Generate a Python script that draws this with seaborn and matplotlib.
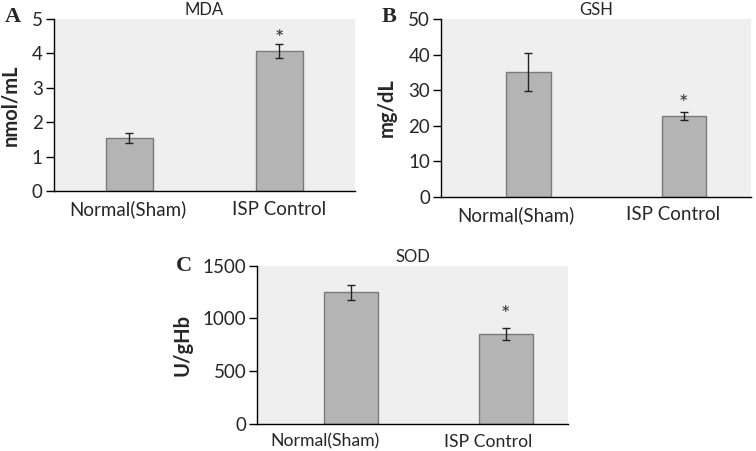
import matplotlib
matplotlib.use("Agg")
import matplotlib.pyplot as plt
import matplotlib.transforms as mtransforms
import seaborn as sns

# Data
groups = ["Normal(Sham)", "ISP Control"]

mda_mean = [1.55, 4.08]
mda_err = [0.15, 0.20]

gsh_mean = [35.0, 22.8]
gsh_err = [5.3, 1.1]

sod_mean = [1248, 853]
sod_err = [70, 60]

titles = ["MDA", "GSH", "SOD"]
ylabels = ["nmol/mL", "mg/dL", "U/gHb"]
letters = ["A", "B", "C"]
yticks_a = [0, 1, 2, 3, 4, 5]
yticks_b = [0, 10, 20, 30, 40, 50]
yticks_c = [0, 500, 1000, 1500]

sns.set_theme(style="white")
plt.rcParams["font.family"] = ["Lato", "DejaVu Sans"]

fig = plt.figure(figsize=(7.56, 4.51), dpi=100)

# axes boxes in figure fractions
boxes = [
    [0.0714, 0.5765, 0.398, 0.3814],
    [0.5837, 0.5639, 0.4093, 0.394],
    [0.3403, 0.0599, 0.4106, 0.351],
]
xlims = [(-0.503, 1.503), (-0.56, 1.43), (-0.605, 1.40)]
widths = [0.313, 0.285, 0.35]
label_x = [-0.113, -0.145, -0.21]
letter_pos = [(0.006, 0.962), (0.505, 0.962), (0.233, 0.41)]
star_pad = [-0.7, 1.4, 5.0]
# category labels sit a little left of the bars in B and C (pixels)
label_shift = [(-2, 0), (-12, -11), (-26, -18)]
xlabel_size = [13.5, 13.5, 12.7]

panels = [
    (mda_mean, mda_err, yticks_a),
    (gsh_mean, gsh_err, yticks_b),
    (sod_mean, sod_err, yticks_c),
]

for i, (means, errs, yt) in enumerate(panels):
    ax = fig.add_axes(boxes[i])
    ax.set_facecolor("#efefef")
    sns.barplot(x=groups, y=means, ax=ax, color="#b4b4b4", width=widths[i],
                edgecolor="#7a7a7a", linewidth=1.0, saturation=1)
    ax.errorbar(range(len(groups)), means, yerr=errs, fmt="none",
                ecolor="#222222", elinewidth=1.0, capsize=3, capthick=1.0)
    # significance star above ISP Control
    ax.annotate("*", xy=(1, means[1] + errs[1]), xytext=(0, star_pad[i]),
                textcoords="offset points", ha="center", va="baseline",
                fontsize=16, color="#333333")
    ax.set_xlim(*xlims[i])
    ax.set_ylim(yt[0], yt[-1])
    ax.set_yticks(yt)
    ax.tick_params(axis="y", which="both", left=True, length=6, width=1,
                   color="black", labelsize=13.5, pad=2)
    ax.tick_params(axis="x", bottom=False, labelsize=xlabel_size[i], pad=1)
    for lab, dx in zip(ax.get_xticklabels(), label_shift[i]):
        off = mtransforms.ScaledTranslation(dx / 100, 0, fig.dpi_scale_trans)
        lab.set_transform(lab.get_transform() + off)
    for s in ["top", "right"]:
        ax.spines[s].set_visible(False)
    for s in ["left", "bottom"]:
        ax.spines[s].set_color("black")
        ax.spines[s].set_linewidth(1.0)
    ax.set_title(titles[i], fontsize=12, pad=3)
    ax.set_ylabel(ylabels[i], fontsize=14.5, fontweight="bold")
    ax.yaxis.set_label_coords(label_x[i], 0.5)
    fig.text(letter_pos[i][0], letter_pos[i][1], letters[i],
             family=["Liberation Serif", "DejaVu Serif"], fontweight="bold",
             fontsize=16, va="center", ha="left")

fig.savefig("out.png", dpi=100)
